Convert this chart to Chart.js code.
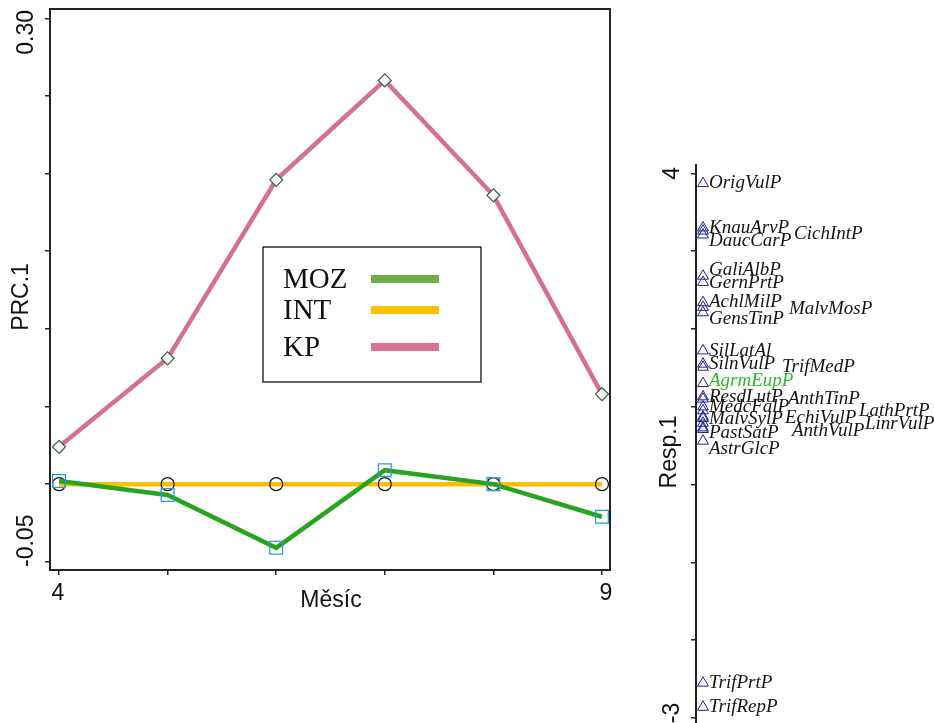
<!DOCTYPE html>
<html>
<head>
<meta charset="utf-8">
<script src="https://cdn.jsdelivr.net/npm/chart.js@4.4.1/dist/chart.umd.min.js"></script>
<style>
  body { margin: 0; background: #fff; }
  #wrap { position: relative; width: 934px; height: 723px; overflow: hidden; }
  #prcChart { position: absolute; left: 0; top: 0; }
  #respChart { position: absolute; left: 640px; top: 0; }
</style>
</head>
<body>
<div id="wrap">
  <canvas id="prcChart" width="640" height="723"></canvas>
  <canvas id="respChart" width="294" height="723"></canvas>
</div>
<script>
// data: PRC curves per month
const months = [4, 5, 6, 7, 8, 9];
const seriesNames = ['MOZ', 'INT', 'KP'];
const mozValues = [0.002, -0.007, -0.041, 0.009, 0.000, -0.021];
const intValues = [0, 0, 0, 0, 0, 0];
const kpValues = [0.024, 0.081, 0.196, 0.260, 0.186, 0.058];
const prcTicks = [-0.05, 0, 0.05, 0.10, 0.15, 0.20, 0.25, 0.30];
const prcTickLabels = ['-0.05', '0.30'];
const monthTickLabels = ['4', '9'];

// data: species scores on Resp.1
const speciesNames = ['OrigVulP', 'KnauArvP', 'CichIntP', 'DaucCarP', 'GaliAlbP', 'GernPrtP',
  'AchlMilP', 'MalvMosP', 'GensTinP', 'SilLatAl', 'SilnVulP', 'TrifMedP', 'AgrmEupP',
  'ResdLutP', 'AnthTinP', 'MedcFalP', 'LathPrtP', 'MalvSylP', 'EchiVulP', 'LinrVulP',
  'AnthVulP', 'PastSatP', 'AstrGlcP', 'TrifPrtP', 'TrifRepP'];
const speciesScores = [3.87, 3.30, 3.26, 3.21, 2.68, 2.60,
  2.34, 2.28, 2.21, 1.72, 1.55, 1.51, 1.30,
  1.13, 1.10, 1.00, 0.95, 0.87, 0.85, 0.79,
  0.73, 0.71, 0.56, -2.55, -2.86];
const respTicks = [-3, -2, -1, 0, 1, 2, 3, 4];
const respTickLabels = ['-3', '4'];

// label layout (pixels, relative to the triangle)
const labelDx = [0, 0, 85, 0, 0, 0, 0, 80, 0, 0, 0, 73, 0, 0, 79, 0, 150, 0, 76, 156, 83, 0, 0, 0, 0];
const labelDy = [0, 0, 3, 6, -6, 1, 0, 2, 6, 0, 0, 0, -2, 0, 0, 0, 0, 2, 0, 1, 3, 4, 8, 0, 0];
const highlightSpecies = 'AgrmEupP';

const lineColors = { MOZ: '#2aa31f', INT: '#ffbf00', KP: '#d5718f' };
const legendColors = { MOZ: '#70ad47', INT: '#ffc000', KP: '#dc7096' };
const sansFont = '"Liberation Sans", Arial, sans-serif';
const serifFont = '"Liberation Serif", "Times New Roman", serif';

function drawRotated(ctx, text, x, y) {
  ctx.save();
  ctx.translate(x, y);
  ctx.rotate(-Math.PI / 2);
  ctx.textAlign = 'center';
  ctx.textBaseline = 'middle';
  ctx.fillText(text, 0, 0);
  ctx.restore();
}

function toPoints(values) {
  return months.map((m, i) => ({ x: m, y: values[i] }));
}

const prcDecor = {
  id: 'prcDecor',
  afterDraw(chart) {
    const ctx = chart.ctx;
    const a = chart.chartArea;
    const xs = chart.scales.x;
    const ys = chart.scales.y;
    ctx.save();
    ctx.strokeStyle = '#222';
    ctx.lineWidth = 2;
    ctx.strokeRect(a.left, a.top, a.right - a.left, a.bottom - a.top);

    ctx.fillStyle = '#111';
    ctx.font = '23px ' + sansFont;
    drawRotated(ctx, prcTickLabels[1], 27, ys.getPixelForValue(0.30) + 14);
    drawRotated(ctx, prcTickLabels[0], 27, ys.getPixelForValue(-0.05) - 21);
    drawRotated(ctx, 'PRC.1', 22, 297);
    ctx.textAlign = 'center';
    ctx.textBaseline = 'alphabetic';
    ctx.fillText(monthTickLabels[0], xs.getPixelForValue(4) - 1, 600);
    ctx.fillText(monthTickLabels[1], xs.getPixelForValue(9) + 4, 600);
    ctx.fillText('Měsíc', 331, 607);

    // legend box
    ctx.fillStyle = '#fff';
    ctx.fillRect(263, 247, 218, 135);
    ctx.strokeStyle = '#111';
    ctx.lineWidth = 1.3;
    ctx.strokeRect(263, 247, 218, 135);
    const rows = [279, 310, 347];
    ctx.font = '29px ' + serifFont;
    ctx.textAlign = 'left';
    ctx.textBaseline = 'middle';
    seriesNames.forEach((name, i) => {
      ctx.fillStyle = '#111';
      ctx.fillText(name, 283, rows[i] + 1);
      ctx.fillStyle = legendColors[name];
      ctx.fillRect(371, rows[i] - 4, 68, 8);
    });
    ctx.restore();
  }
};

new Chart(document.getElementById('prcChart'), {
  type: 'line',
  data: {
    datasets: [
      {
        label: 'MOZ', data: toPoints(mozValues), order: 1,
        borderColor: lineColors.MOZ, borderWidth: 4.5,
        pointStyle: 'rect', pointRadius: 9, pointBorderColor: '#2b9bd8',
        pointBorderWidth: 1.3, pointBackgroundColor: 'rgba(0,0,0,0)'
      },
      {
        label: 'INT', data: toPoints(intValues), order: 2,
        borderColor: lineColors.INT, borderWidth: 4.5,
        pointStyle: 'circle', pointRadius: 6.5, pointBorderColor: '#111',
        pointBorderWidth: 1.2, pointBackgroundColor: 'rgba(0,0,0,0)'
      },
      {
        label: 'KP', data: toPoints(kpValues), order: 0,
        borderColor: lineColors.KP, borderWidth: 4.5,
        pointStyle: 'rectRot', pointRadius: 6.5, pointBorderColor: '#2f5f3f',
        pointBorderWidth: 1.2, pointBackgroundColor: '#f4f4f4'
      }
    ]
  },
  options: {
    responsive: false,
    animation: false,
    devicePixelRatio: 1,
    layout: { autoPadding: false, padding: { left: 0, top: 9, right: 30, bottom: 0 } },
    plugins: { legend: { display: false }, tooltip: { enabled: false } },
    scales: {
      x: {
        type: 'linear', min: 3.917, max: 9.074,
        afterBuildTicks: (scale) => { scale.ticks = months.map(v => ({ value: v })); },
        afterFit: (scale) => { scale.height = 153; },
        ticks: { display: false },
        grid: { drawOnChartArea: false, drawTicks: true, tickLength: 5, color: '#222', lineWidth: 1.5 },
        border: { display: true, color: '#222', width: 2 }
      },
      y: {
        type: 'linear', min: -0.0553, max: 0.306,
        afterBuildTicks: (scale) => { scale.ticks = prcTicks.map(v => ({ value: v })); },
        afterFit: (scale) => { scale.width = 50; },
        ticks: { display: false },
        grid: { drawOnChartArea: false, drawTicks: true, tickLength: 5, color: '#222', lineWidth: 1.5 },
        border: { display: true, color: '#222', width: 2 }
      }
    }
  },
  plugins: [prcDecor]
});

const respDecor = {
  id: 'respDecor',
  afterDatasetsDraw(chart) {
    const ctx = chart.ctx;
    const ys = chart.scales.y;
    const meta = chart.getDatasetMeta(0);
    ctx.save();
    ctx.font = 'italic 19px ' + serifFont;
    ctx.textAlign = 'left';
    ctx.textBaseline = 'middle';
    meta.data.forEach((pt, i) => {
      ctx.fillStyle = speciesNames[i] === highlightSpecies ? '#2fb52f' : '#141414';
      ctx.fillText(speciesNames[i], pt.x + 6 + labelDx[i], pt.y + labelDy[i]);
    });
    ctx.fillStyle = '#111';
    ctx.font = '23px ' + sansFont;
    drawRotated(ctx, respTickLabels[1], 33, ys.getPixelForValue(4));
    drawRotated(ctx, respTickLabels[0], 33, ys.getPixelForValue(-3) - 5);
    drawRotated(ctx, 'Resp.1', 30, 452);
    ctx.restore();
  }
};

new Chart(document.getElementById('respChart'), {
  type: 'scatter',
  data: {
    datasets: [{
      label: 'Resp.1',
      data: speciesScores.map(v => ({ x: 0, y: v })),
      pointStyle: 'triangle', pointRadius: 6.3,
      pointBorderColor: '#20208f', pointBorderWidth: 1,
      pointBackgroundColor: 'rgba(0,0,0,0)'
    }]
  },
  options: {
    responsive: false,
    animation: false,
    devicePixelRatio: 1,
    layout: { autoPadding: false, padding: { left: 0, top: 165, right: 0, bottom: 0 } },
    plugins: { legend: { display: false }, tooltip: { enabled: false } },
    scales: {
      x: { type: 'linear', min: -0.1, max: 3.3, display: false },
      y: {
        type: 'linear', min: -3.064, max: 4.107,
        afterBuildTicks: (scale) => { scale.ticks = respTicks.map(v => ({ value: v })); },
        afterFit: (scale) => { scale.width = 56; },
        ticks: { display: false },
        grid: { drawOnChartArea: false, drawTicks: true, tickLength: 5, color: '#222', lineWidth: 1.5 },
        border: { display: true, color: '#222', width: 2 }
      }
    }
  },
  plugins: [respDecor]
});
</script>
</body>
</html>
